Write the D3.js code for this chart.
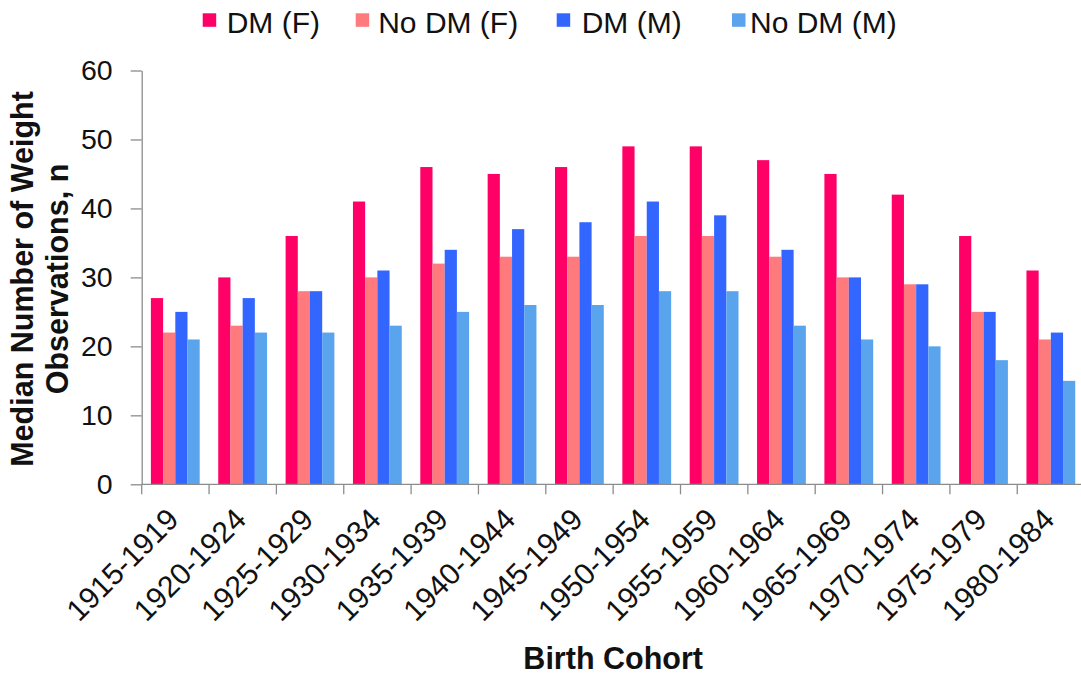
<!DOCTYPE html>
<html>
<head>
<meta charset="utf-8">
<script src="https://cdn.jsdelivr.net/npm/d3@7"></script>
<style>
  html, body { margin: 0; padding: 0; background: #fff; }
  svg { display: block; font-family: "Liberation Sans", Arial, sans-serif; }
</style>
</head>
<body>
<svg id="chart" width="1081" height="675"></svg>
<script>
const cohorts = ["1915-1919","1920-1924","1925-1929","1930-1934","1935-1939","1940-1944","1945-1949","1950-1954","1955-1959","1960-1964","1965-1969","1970-1974","1975-1979","1980-1984"];
const seriesNames = ["DM (F)", "No DM (F)", "DM (M)", "No DM (M)"];
const dmF   = [27, 30, 36, 41, 46, 45, 46, 49, 49, 47, 45, 42, 36, 31];
const noDmF = [22, 23, 28, 30, 32, 33, 33, 36, 36, 33, 30, 29, 25, 21];
const dmM   = [25, 27, 28, 31, 34, 37, 38, 41, 39, 34, 30, 29, 25, 22];
const noDmM = [21, 22, 22, 23, 25, 26, 26, 28, 28, 23, 21, 20, 18, 15];
const yTicks = [0, 10, 20, 30, 40, 50, 60];
const colors = ["#ff0066", "#ff7a7c", "#3366ff", "#5aa4ee"];

const seriesValues = [dmF, noDmF, dmM, noDmM];

const svg = d3.select("#chart");
const plotLeft = 141.7, plotRight = 1084.6, plotTop = 70.5, plotBottom = 484.3;

const x = d3.scaleBand().domain(cohorts).range([plotLeft, plotRight]).paddingInner(0).paddingOuter(0);
const x1 = d3.scaleBand().domain(seriesNames).range([9.2, 9.2 + 48.8]).padding(0);
const y = d3.scaleLinear().domain([0, 60]).range([plotBottom, plotTop]);

// bars
const groups = svg.append("g").selectAll("g")
  .data(cohorts)
  .join("g")
  .attr("transform", d => `translate(${x(d)},0)`);

groups.selectAll("rect")
  .data((d, i) => seriesNames.map((s, k) => ({ s, k, v: seriesValues[k][i] })))
  .join("rect")
  .attr("x", d => x1(d.s))
  .attr("width", x1.bandwidth())
  .attr("y", d => y(d.v))
  .attr("height", d => y(0) - y(d.v))
  .attr("fill", d => colors[d.k]);

// y axis
const yAxis = d3.axisLeft(y).tickValues(yTicks).tickSize(11).tickPadding(18).tickSizeOuter(0);
const gy = svg.append("g").attr("transform", `translate(${plotLeft},0)`).call(yAxis);
gy.select(".domain").attr("stroke", "#8c8c8c").attr("stroke-width", 1.3);
gy.selectAll(".tick line").attr("stroke", "#8c8c8c").attr("stroke-width", 1.3);
gy.selectAll(".tick text").attr("font-size", 28.5).attr("fill", "#111")
  .attr("font-family", "'Liberation Sans', Arial, sans-serif");

// x axis line
svg.append("line")
  .attr("x1", plotLeft).attr("x2", plotRight)
  .attr("y1", plotBottom).attr("y2", plotBottom)
  .attr("stroke", "#8c8c8c").attr("stroke-width", 1.3);

// x ticks at band boundaries
const bounds = cohorts.map(c => x(c)).concat([x(cohorts[cohorts.length - 1]) + x.bandwidth()]);
svg.append("g").selectAll("line")
  .data(bounds)
  .join("line")
  .attr("x1", d => d).attr("x2", d => d)
  .attr("y1", plotBottom).attr("y2", plotBottom + 10)
  .attr("stroke", "#8c8c8c").attr("stroke-width", 1.3);

// x tick labels
svg.append("g").selectAll("text")
  .data(cohorts)
  .join("text")
  .attr("transform", d => `translate(${x(d) + x.bandwidth() / 2 + 5},${plotBottom + 37}) rotate(-45)`)
  .attr("text-anchor", "end")
  .attr("font-size", 30)
  .attr("fill", "#111")
  .text(d => d);

// axis titles
svg.append("text")
  .attr("x", (plotLeft + plotRight) / 2)
  .attr("y", 669)
  .attr("text-anchor", "middle")
  .attr("font-size", 30.5)
  .attr("font-weight", "bold")
  .attr("fill", "#111")
  .text("Birth Cohort");

const yTitle = svg.append("text")
  .attr("transform", "translate(0,279) rotate(-90)")
  .attr("text-anchor", "middle")
  .attr("font-size", 30.5)
  .attr("font-weight", "bold")
  .attr("fill", "#111");
yTitle.append("tspan").attr("x", 0).attr("y", 33).text("Median Number of Weight");
yTitle.append("tspan").attr("x", 0).attr("y", 68).text("Observations, n");

// legend
const legendX = [202.7, 355.7, 556.7, 732];
const legend = svg.append("g").selectAll("g")
  .data(seriesNames)
  .join("g")
  .attr("transform", (d, i) => `translate(${legendX[i]},0)`);
legend.append("rect")
  .attr("x", 0).attr("y", 13.3)
  .attr("width", 13.5).attr("height", 13.5)
  .attr("fill", (d, i) => colors[i]);
legend.append("text")
  .attr("x", (d, i) => [24, 22.5, 25, 18][i]).attr("y", 32.5)
  .attr("font-size", 30)
  .attr("fill", "#111")
  .text(d => d);
</script>
</body>
</html>
